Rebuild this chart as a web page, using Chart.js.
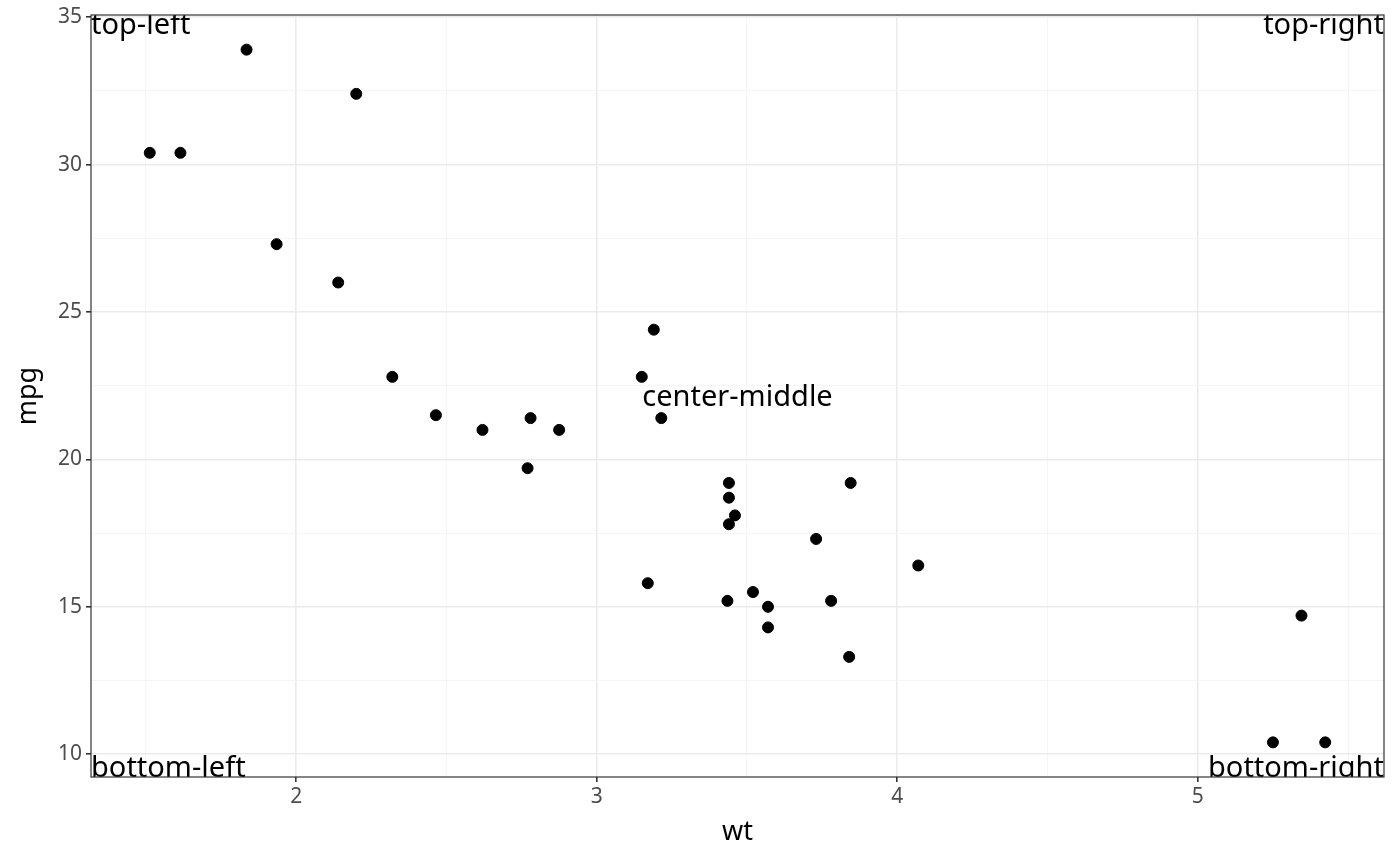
<!DOCTYPE html>
<html>
<head>
<meta charset="utf-8">
<script src="https://cdn.jsdelivr.net/npm/chart.js@4"></script>
<style>
  html, body { margin: 0; padding: 0; background: #fff; }
  #wrap { width: 1400px; height: 866px; }
</style>
</head>
<body>
<div id="wrap"><canvas id="chart"></canvas></div>
<script>
// mtcars: weight (1000 lbs) and miles per gallon
const wt = [2.62, 2.875, 2.32, 3.215, 3.44, 3.46, 3.57, 3.19, 3.15, 3.44, 3.44,
  4.07, 3.73, 3.78, 5.25, 5.424, 5.345, 2.2, 1.615, 1.835, 2.465, 3.52, 3.435,
  3.84, 3.845, 1.935, 2.14, 1.513, 3.17, 2.77, 3.57, 2.78];
const mpg = [21.0, 21.0, 22.8, 21.4, 18.7, 18.1, 14.3, 24.4, 22.8, 19.2, 17.8,
  16.4, 17.3, 15.2, 10.4, 10.4, 14.7, 32.4, 30.4, 33.9, 21.5, 15.5, 15.2,
  13.3, 19.2, 27.3, 26.0, 30.4, 15.8, 19.7, 15.0, 21.4];

const xTicks = [1.5, 2, 2.5, 3, 3.5, 4, 4.5, 5, 5.5];
const yTicks = [10, 12.5, 15, 17.5, 20, 22.5, 25, 27.5, 30, 32.5, 35];
const xRange = [1.31745, 5.61955];
const yRange = [9.225, 35.075];

const labels = ["top-left", "top-right", "center-middle", "bottom-left", "bottom-right"];

const points = wt.map((w, i) => ({ x: w, y: mpg[i] }));

const xMajor = (v) => Number.isInteger(v);
const yMajor = (v) => v % 5 === 0;

// panel border and the corner texts
const panelPlugin = {
  id: "panel",
  afterDatasetsDraw(chart) {
    const { ctx, chartArea: a } = chart;
    ctx.save();
    ctx.beginPath();
    ctx.rect(a.left, a.top, a.right - a.left, a.bottom - a.top);
    ctx.clip();
    ctx.fillStyle = "#000";
    ctx.font = "29px 'Noto Sans'";
    ctx.textBaseline = "alphabetic";
    ctx.textAlign = "left";
    ctx.fillText(labels[0], a.left, a.top + 19);
    ctx.textAlign = "right";
    ctx.fillText(labels[1], a.right, a.top + 19);
    ctx.textAlign = "center";
    ctx.fillText(labels[2], (a.left + a.right) / 2, (a.top + a.bottom) / 2 + 10);
    ctx.textAlign = "left";
    ctx.fillText(labels[3], a.left, a.bottom);
    ctx.textAlign = "right";
    ctx.fillText(labels[4], a.right, a.bottom);
    ctx.restore();

    ctx.save();
    ctx.strokeStyle = "#333333";
    ctx.lineWidth = 1.2;
    ctx.strokeRect(a.left, a.top, a.right - a.left, a.bottom - a.top);
    ctx.restore();
  }
};

const gridFor = (major) => ({
  color: (c) => major(c.tick.value) ? "#EBEBEB" : "#F4F4F4",
  lineWidth: (c) => major(c.tick.value) ? 1.6 : 0.9,
  tickColor: (c) => major(c.tick.value) ? "#333333" : "rgba(0,0,0,0)",
  tickLength: 5,
  drawTicks: true
});

new Chart(document.getElementById("chart"), {
  type: "scatter",
  data: {
    datasets: [{
      data: points,
      backgroundColor: "#000",
      borderColor: "#000",
      pointRadius: 5.5,
      pointHoverRadius: 5.5
    }]
  },
  options: {
    responsive: true,
    maintainAspectRatio: false,
    animation: false,
    layout: { padding: { top: 15, right: 16, left: 0, bottom: 0 } },
    plugins: { legend: { display: false }, tooltip: { enabled: false } },
    scales: {
      x: {
        type: "linear",
        min: xRange[0],
        max: xRange[1],
        afterBuildTicks: (s) => { s.ticks = xTicks.map((v) => ({ value: v })); },
        afterFit: (s) => { s.height = 89; },
        grid: gridFor(xMajor),
        border: { display: false },
        ticks: {
          color: "#4D4D4D",
          font: { family: "'Noto Sans'", size: 21 },
          padding: 2,
          maxRotation: 0,
          callback: (v) => xMajor(v) ? String(v) : ""
        },
        title: {
          display: true,
          text: "wt",
          color: "#000",
          font: { family: "'Noto Sans'", size: 27 },
          padding: { top: 0, bottom: 17 }
        }
      },
      y: {
        type: "linear",
        min: yRange[0],
        max: yRange[1],
        afterBuildTicks: (s) => { s.ticks = yTicks.map((v) => ({ value: v })); },
        afterFit: (s) => { s.width = 91; },
        grid: gridFor(yMajor),
        border: { display: false },
        ticks: {
          color: "#4D4D4D",
          font: { family: "'Noto Sans'", size: 21, lineHeight: 1 },
          padding: 4,
          callback: (v) => yMajor(v) ? String(v) : ""
        },
        title: {
          display: true,
          text: "mpg",
          color: "#000",
          font: { family: "'Noto Sans'", size: 27 },
          padding: { top: 12, bottom: 0 }
        }
      }
    }
  },
  plugins: [panelPlugin]
});
</script>
</body>
</html>
